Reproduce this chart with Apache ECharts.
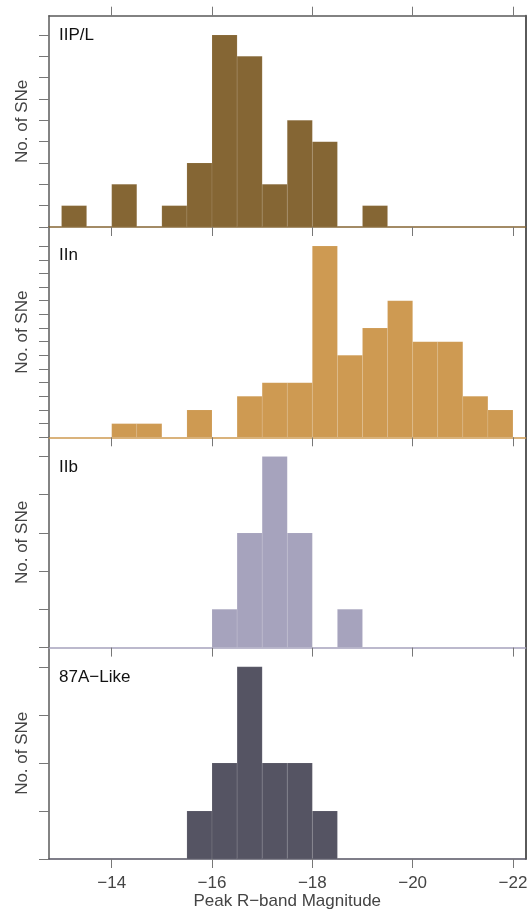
<!DOCTYPE html>
<html>
<head>
<meta charset="utf-8">
<script src="https://cdn.jsdelivr.net/npm/echarts@6/dist/echarts.min.js"></script>
<style>
html,body{margin:0;padding:0;background:#fff;}
#chart{width:527px;height:912px;}
</style>
</head>
<body>
<div id="chart"></div>
<script>
// ---- data ----
var binStarts = [-13,-13.5,-14,-14.5,-15,-15.5,-16,-16.5,-17,-17.5,-18,-18.5,-19,-19.5,-20,-20.5,-21,-21.5];
var binWidth = 0.5;
var countsIIPL = [1,0,2,0,1,3,9,8,2,5,4,0,1,0,0,0,0,0];
var countsIIn  = [0,0,1,1,0,2,0,3,4,4,14,6,8,10,7,7,3,2];
var countsIIb  = [0,0,0,0,0,0,1,3,5,3,0,1,0,0,0,0,0,0];
var counts87A  = [0,0,0,0,0,1,2,4,2,2,1,0,0,0,0,0,0,0];
var panelNames = ['IIP/L','IIn','IIb','87A\u2212Like'];
var xTicks = [-14,-16,-18,-20,-22];
var yTicksIIPL = [0,1,2,3,4,5,6,7,8,9];
var yTicksIIn  = [0,1,2,3,4,5,6,7,8,9,10,11,12,13,14];
var yTicksIIb  = [0,1,2,3,4,5];
var yTicks87A  = [0,1,2,3,4];
var xTitle = 'Peak R\u2212band Magnitude';
var yTitle = 'No. of SNe';

// ---- styling / layout ----
var colors = ['#856634','#CE9A52','#A6A3BD','#555463'];
var panelCounts = [countsIIPL, countsIIn, countsIIb, counts87A];
var panelYTicks = [yTicksIIPL, yTicksIIn, yTicksIIb, yTicks87A];
var grids = [
  {top:15.7, height:211.3},
  {top:227, height:210.3},
  {top:437.3, height:210.3},
  {top:647.6, height:211.4}
];
var labelY = [35.8, 256.3, 467.5, 677.5];
var FONT = '"Liberation Sans", Arial, Helvetica, sans-serif';
var axisGrey = '#5a5a5a';
var tickGrey = '#777777';

var option = {
  animation: false,
  backgroundColor: '#ffffff',
  grid: [], xAxis: [], yAxis: [], series: [], graphic: []
};

function fmt(v){ return String(v).replace('-', '\u2212'); }

for (var i = 0; i < 4; i++) {
  option.grid.push({left:49, right:1.5, top:grids[i].top, height:grids[i].height,
    containLabel:false, outerBoundsMode:'none'});
  var maxC = Math.max.apply(null, panelCounts[i]);
  option.xAxis.push({
    type:'value', gridIndex:i, min:-22.25, max:-12.75, inverse:true, position:'bottom',
    axisLine:{show:true, onZero:false, lineStyle:{color:colors[i], width:1.6}},
    axisTick:{show:true, customValues:xTicks, length:9, lineStyle:{color:tickGrey, width:1}},
    axisLabel:{show:i===3, customValues:xTicks, formatter:fmt, fontFamily:FONT, fontSize:17, color:'#444', margin:16},
    splitLine:{show:false},
    name: i===3 ? xTitle : '', nameLocation:'middle', nameGap:33,
    nameTextStyle:{fontFamily:FONT, fontSize:17, color:'#444'}
  });
  option.yAxis.push({
    type:'value', gridIndex:i, min:0, max:maxC*1.1, position:'left',
    axisLine:{show:true, onZero:false, lineStyle:{color:axisGrey, width:1.5}},
    axisTick:{show:true, customValues:panelYTicks[i], length:10, lineStyle:{color:tickGrey, width:1}},
    axisLabel:{show:false}, splitLine:{show:false},
    name:yTitle, nameLocation:'middle', nameGap:18, nameRotate:90,
    nameTextStyle:{fontFamily:FONT, fontSize:17, color:'#444'}
  });
  // right border
  option.yAxis.push({
    type:'value', gridIndex:i, min:0, max:maxC*1.1, position:'right',
    axisLine:{show:true, onZero:false, lineStyle:{color:axisGrey, width:2}},
    axisTick:{show:false}, axisLabel:{show:false}, splitLine:{show:false}
  });
  var data = [];
  for (var k = 0; k < binStarts.length; k++) data.push([binStarts[k], panelCounts[i][k]]);
  option.series.push({
    type:'custom', xAxisIndex:i, yAxisIndex:2*i, data:data, z:1,
    renderItem:(function(col){ return function(params, api){
      var x0 = api.value(0), c = api.value(1);
      if (!c) return null;
      var p1 = api.coord([x0, c]);
      var p2 = api.coord([x0 - binWidth, 0]);
      return {type:'rect', shape:{x:Math.min(p1[0],p2[0]), y:p1[1], width:Math.abs(p2[0]-p1[0]), height:p2[1]-p1[1]},
        style:{fill:col, stroke:'rgba(255,255,255,0.15)', lineWidth:0.6}};
    };})(colors[i])
  });
  option.graphic.push({type:'text', left:59, top:labelY[i]-9, z:10,
    style:{text:panelNames[i], font:'17px ' + FONT, fill:'#111'}});
}
// top axis of first panel
option.xAxis.push({
  type:'value', gridIndex:0, min:-22.25, max:-12.75, inverse:true, position:'top',
  axisLine:{show:true, onZero:false, lineStyle:{color:axisGrey, width:1.5}},
  axisTick:{show:true, customValues:xTicks, length:9, lineStyle:{color:tickGrey, width:1}},
  axisLabel:{show:false}, splitLine:{show:false}
});

var chart = echarts.init(document.getElementById('chart'), null, {renderer:'canvas'});
chart.setOption(option);
</script>
</body>
</html>
